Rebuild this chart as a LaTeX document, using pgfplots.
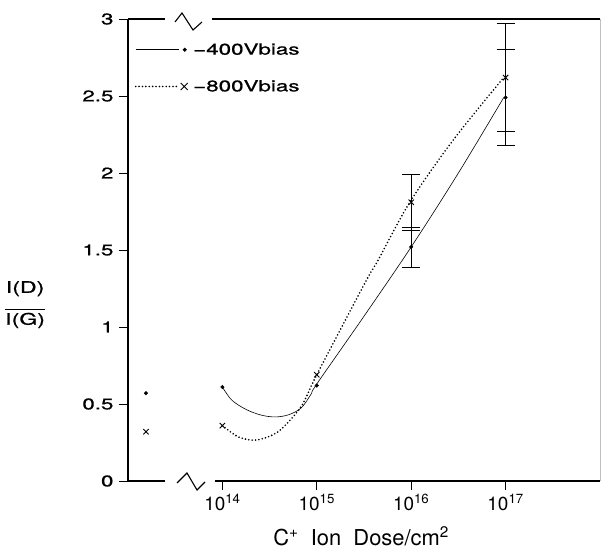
\documentclass[border=0pt]{standalone}
\usepackage{fontspec}
\setmainfont{TeX Gyre Heros}
\newfontfamily\widefont{TeX Gyre Heros}[FakeStretch=1.45, FakeBold=0.8]
\usepackage{pgfplots}
\pgfplotsset{compat=1.18}
\begin{document}
\begin{tikzpicture}[font=\fontsize{15}{18}\selectfont]
\useasboundingbox (-128bp,-74bp) rectangle (473bp,481bp);
\begin{axis}[
  scale only axis,
  width=472bp, height=462bp,
  xmin=13, xmax=18, ymin=0, ymax=3,
  axis line style={draw=none},
  xtick={14,15,16,17},
  xticklabels={10\textsuperscript{14},10\textsuperscript{15},10\textsuperscript{16},10\textsuperscript{17}},
  ytick={0,0.5,1,1.5,2,2.5,3},
  yticklabels={0,0.5,1,1.5,2,2.5,3},
  /pgf/number format/assume math mode=true,
  tick align=outside, xtick pos=bottom, ytick pos=left,
  major tick length=9bp,
  tick style={black, line width=0.8pt},
  xticklabel style={font=\fontsize{19}{22}\selectfont, yshift=-1bp},
  yticklabel style={font=\widefont\fontsize{15.5}{18}\selectfont, xshift=-2bp},
  xlabel={C\textsuperscript{+}\ \ Ion\ \ Dose/cm\textsuperscript{2}},
  xlabel style={font=\fontsize{22}{26}\selectfont, at={(axis description cs:0.494,-0.12)}, anchor=center},
  ylabel={\begin{tabular}{@{}c@{}}I(D)\\[-2pt]\rule{40bp}{0.6pt}\\[-4pt]I(G)\end{tabular}},
  ylabel style={font=\widefont\fontsize{16}{19}\selectfont, rotate=-90, at={(axis description cs:-0.218,0.381)}, anchor=center},
  clip=false,
  legend style={draw=none, fill=none, at={(axis description cs:0.014,0.952)}, anchor=north west,
    font=\widefont\fontsize{15.5}{18}\selectfont, row sep=20bp, inner sep=0pt},
  legend cell align=left,
]
% -400 V bias curve
\addplot[black, line width=0.6pt, smooth, tension=0.55,
  legend image code/.code={\draw[black,line width=0.6pt] (0bp,0bp)--(43bp,0bp); \fill[black] (49bp,0bp) circle (1.7pt);}]
coordinates {(14,0.61) (14.1,0.525) (14.25,0.465) (14.41,0.428) (14.56,0.416) (14.70,0.43) (14.834,0.474) (14.94,0.565) (15.0,0.63) (15.5,1.07) (16,1.52) (16.5,2.0) (16.98,2.49)};
\addlegendentry{\hspace{3bp}−400Vbias}
% -800 V bias curve
\addplot[black, line width=1.8pt, dash pattern=on 0pt off 3.4pt, line cap=round, smooth, tension=0.5,
  legend image code/.code={\draw[black,line width=1.8pt, dash pattern=on 0pt off 3.4pt, line cap=round] (0bp,0bp)--(41bp,0bp); \draw[black,solid,line cap=butt,line width=0.9pt] (45bp,-3.5bp)--(52bp,3.5bp) (45bp,3.5bp)--(52bp,-3.5bp);}]
coordinates {(14.0,0.36) (14.17,0.286) (14.36,0.266) (14.59,0.32) (14.83,0.48) (15.0,0.69) (15.51,1.286) (15.65,1.435) (15.985,1.81) (16.44,2.21) (16.98,2.62)};
\addlegendentry{\hspace{3bp}−800Vbias}
% markers
\addplot[forget plot, only marks, mark=*, mark size=1.8pt, black]
coordinates {(13.19,0.57) (14,0.61) (15,0.62)};
\addplot[forget plot, only marks, mark=x, mark size=3.8pt, black, mark options={line width=0.9pt}]
coordinates {(13.19,0.32) (14,0.36) (15,0.69)};
\addplot[forget plot, only marks, mark=*, mark size=1.8pt, black,
  error bars/.cd, y dir=both, y explicit, error bar style={line width=0.7pt},
  error mark options={rotate=90, mark size=9bp, line width=0.7pt}]
coordinates {(16,1.52) +- (0,0.13) (17,2.49) +- (0,0.31)};
\addplot[forget plot, only marks, mark=x, mark size=3.8pt, black, mark options={line width=0.9pt},
  error bars/.cd, y dir=both, y explicit, error bar style={line width=0.7pt},
  error mark options={rotate=90, mark size=9bp, line width=0.7pt}]
coordinates {(16,1.81) +- (0,0.18) (17,2.62) +- (0,0.35)};
\end{axis}
% axis lines with breaks (pixel offsets from axis origin)
\begin{scope}[line width=1.1pt, black]
\draw (0bp,0bp) -- (0bp,462bp);
\draw (0bp,0bp) -- (37bp,0bp);
\draw (49bp,-2bp) -- (59bp,8bp) -- (69bp,-9bp) -- (77bp,-1bp);
\draw (87bp,0bp) -- (472bp,0bp);
\draw (0bp,462bp) -- (37bp,462bp);
\draw (47bp,459bp) -- (54bp,468bp) -- (65bp,451bp) -- (74bp,459bp);
\draw (84bp,462bp) -- (472bp,462bp);
\end{scope}
\draw[gray!50, line width=0.5pt] (472bp,0bp) -- (472bp,462bp);
\end{tikzpicture}
\end{document}
